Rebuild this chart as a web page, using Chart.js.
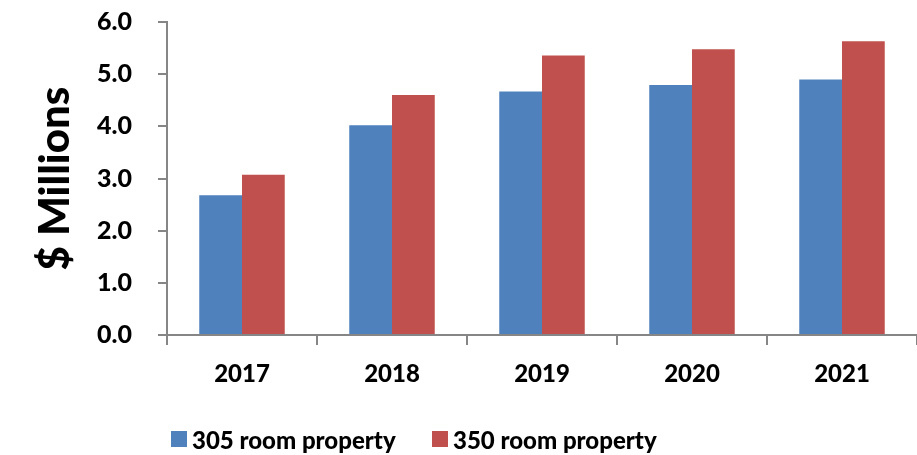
<!DOCTYPE html>
<html>
<head>
<meta charset="utf-8">
<script src="https://cdn.jsdelivr.net/npm/chart.js@4"></script>
<style>
    body { margin: 0; background: #ffffff; }
    #wrap { position: relative; width: 917px; height: 455px; }
    #legend { position: absolute; top: 425px; left: 0; font-family: Lato, sans-serif; font-weight: 900; font-size: 24px; color: #000; }
    .item { position: absolute; white-space: nowrap; }
    .box { position: absolute; top: 6px; width: 16px; height: 16px; }
    .txt { position: absolute; left: 21px; top: 0; }
</style>
</head>
<body>
<div id="wrap">
    <canvas id="chart" width="917" height="455"></canvas>
    <div id="legend"></div>
</div>
<script>
// البيانات
const years = ['2017', '2018', '2019', '2020', '2021'];
const small = [2.68, 4.02, 4.67, 4.79, 4.90];
const large = [3.07, 4.60, 5.36, 5.48, 5.63];
const seriesNames = ['305 room property', '350 room property'];
const seriesColors = ['#4F81BD', '#C0504D'];

const FONT = 'Lato, sans-serif';
const AXIS = '#868686';

const ctx = document.getElementById('chart').getContext('2d');
const chart = new Chart(ctx, {
    type: 'bar',
    data: {
        labels: years,
        datasets: [
            { label: seriesNames[0], data: small, backgroundColor: seriesColors[0] },
            { label: seriesNames[1], data: large, backgroundColor: seriesColors[1] }
        ]
    },
    options: {
        responsive: false,
        animation: false,
        layout: { padding: { left: 30, top: 4, right: 0, bottom: 0 } },
        datasets: { bar: { categoryPercentage: 0.57, barPercentage: 1.0 } },
        plugins: { legend: { display: false }, tooltip: { enabled: false } },
        scales: {
            x: {
                grid: { display: true, offset: true, drawOnChartArea: false, tickLength: 10, color: AXIS, lineWidth: 2 },
                border: { color: AXIS, width: 2 },
                ticks: { color: '#000', font: { family: FONT, weight: '900', size: 24 }, padding: 15 },
                afterFit: function(s) { s.height = 120; s.paddingLeft = 0; s.paddingRight = 0; }
            },
            y: {
                min: 0,
                max: 6,
                ticks: {
                    stepSize: 1,
                    color: '#000',
                    padding: 26,
                    font: { family: FONT, weight: '900', size: 25 },
                    callback: function(v) { return v.toFixed(1); }
                },
                grid: { display: true, drawOnChartArea: false, tickLength: 9, color: AXIS, lineWidth: 2 },
                border: { color: AXIS, width: 2 },
                title: { display: true, text: '$ Millions', color: '#000', font: { family: FONT, weight: '900', size: 42 }, padding: 0 },
                // تثبيت موضع منطقة الرسم
                afterFit: function(s) { s.width = 137; s.paddingTop = 22; s.paddingBottom = 0; }
            }
        }
    }
});

// وسيلة الإيضاح
const legend = document.getElementById('legend');
const legendX = [171, 432];
seriesNames.forEach((name, i) => {
    const item = document.createElement('div');
    item.className = 'item';
    item.style.left = legendX[i] + 'px';
    const box = document.createElement('span');
    box.className = 'box';
    box.style.background = seriesColors[i];
    const txt = document.createElement('span');
    txt.className = 'txt';
    txt.textContent = name;
    item.appendChild(box);
    item.appendChild(txt);
    legend.appendChild(item);
});
</script>
</body>
</html>
